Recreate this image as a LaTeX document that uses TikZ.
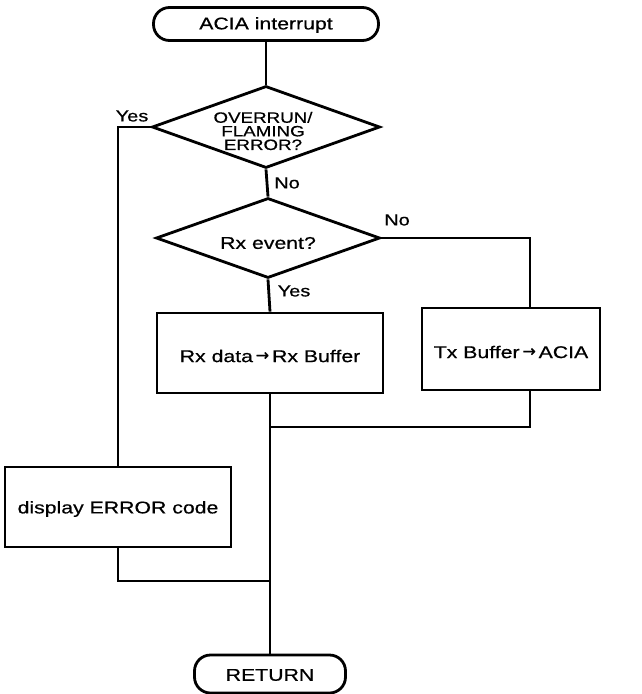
\documentclass[tikz,border=0pt]{standalone}
\usepackage{fontspec}
\setmainfont{Liberation Sans}[FakeStretch=1.25,FakeBold=0.6]
\newfontfamily\arrfont{DejaVu Sans}[FakeBold=0.6]
\usetikzlibrary{shapes.geometric}
\begin{document}
\begin{tikzpicture}[x=1pt,y=-1pt,
  txt/.style={font=\fontsize{17}{20}\selectfont,inner sep=0pt},
  lbl/.style={font=\fontsize{16}{18}\selectfont,inner sep=0pt},
  flow/.style={line width=2.8pt,line join=miter},
  term/.style={draw,line width=2.8pt,rounded corners=16pt,inner sep=0pt},
  procbox/.style={draw,line width=2.8pt,inner sep=0pt},
  decision/.style={draw,line width=2.8pt,diamond,inner sep=0pt}]
\useasboundingbox (0,0) rectangle (642,694);
% nodes
\node[term,minimum width=225pt,minimum height=33pt] (A) at (266,24) {};
\node[txt] (At) at (266,25) {ACIA interrupt};
\node[decision,minimum width=228pt,minimum height=82pt] (D1) at (266,127) {};
\node[txt,align=center,font=\fontsize{15}{13.6}\selectfont] (D1t) at (263,131) {OVERRUN/\\FLAMING\\ERROR?};
\node[decision,minimum width=224pt,minimum height=80pt] (D2) at (268,238) {};
\node[txt] (D2t) at (268,243) {Rx event?};
\node[procbox,minimum width=226pt,minimum height=80pt] (Rx) at (270,353) {};
\node[txt] (Rxt) at (270,356) {Rx data\,{\arrfont\fontsize{16}{16}\selectfont\raisebox{1.5pt}{→}}\,Rx Buffer};
\node[procbox,minimum width=178pt,minimum height=82pt] (Tx) at (511,349) {};
\node[txt] (Txt) at (511,352) {Tx Buffer\,{\arrfont\fontsize{16}{16}\selectfont\raisebox{1.5pt}{→}}\,ACIA};
\node[procbox,minimum width=226pt,minimum height=80pt] (Disp) at (118,507) {};
\node[txt] (Dispt) at (118,509) {display ERROR code};
\node[term,minimum width=151pt,minimum height=38pt] (Ret) at (270,674) {};
\node[txt] (Rett) at (270,675) {RETURN};
% labels
\node[lbl] (y1) at (132,116) {Yes};
\node[lbl] (n1) at (287,183) {No};
\node[lbl] (n2) at (397,220) {No};
\node[lbl] (y2) at (294,291) {Yes};
% junctions
\coordinate (txin) at (530,308);
\coordinate (txout) at (530,390);
\coordinate (j1) at (270,427);
\coordinate (j2) at (270,581);
% connectors
\draw[flow] (A.south) -- (D1.north);
\draw[flow] (D1.west) -| (Disp.north);
\draw[flow] (D1.south) -- (D2.north);
\draw[flow] (D2.east) -| (txin);
\draw[flow] (D2.south) -- (Rx.north);
\draw[flow] (Rx.south) -- (Ret.north);
\draw[flow] (txout) |- (j1);
\draw[flow] (Disp.south) |- (j2);
\end{tikzpicture}
\end{document}
